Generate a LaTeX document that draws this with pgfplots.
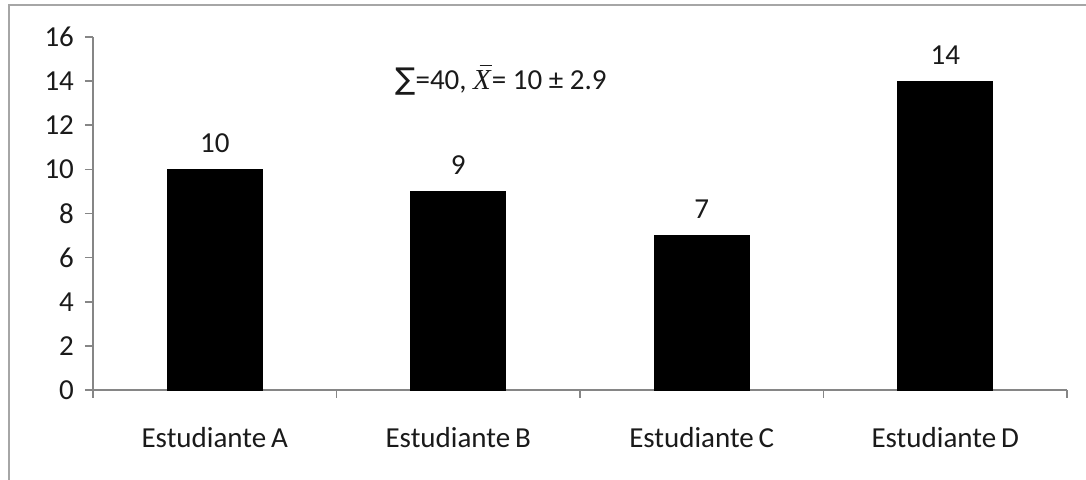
\documentclass[border=0pt]{standalone}
\usepackage{pgfplots}
\pgfplotsset{compat=1.18}
\usepackage{fontspec}
\setmainfont{Carlito}
\newfontfamily\symfont{DejaVu Sans}
\newfontfamily\mathserif{Liberation Serif}
\definecolor{axgray}{HTML}{868686}
\definecolor{framegray}{HTML}{A6A6A6}
\definecolor{txt}{HTML}{1A1A1A}
\newcommand{\xbar}{\makebox[0pt][l]{\hspace{3.2pt}\raisebox{11.5pt}{\rule{6pt}{0.7pt}}}{\mathserif\itshape X}}
\begin{document}
\begin{tikzpicture}
\begin{axis}[
    at={(0,0)}, anchor=south west,
    scale only axis,
    width=487pt, height=176.5pt,
    xmin=0, xmax=4, ymin=0, ymax=16,
    axis x line*=bottom, axis y line*=left,
    axis line style={axgray, line width=0.8pt},
    tick style={axgray, line width=0.8pt},
    tick align=outside,
    major tick length=4pt,
    ytick={0,2,...,16},
    xtick={0,1,2,3,4},
    xticklabels={},
    extra x ticks={0.5,1.5,2.5,3.5},
    extra x tick labels={Estudiante\,A, Estudiante\,B, Estudiante\,C, Estudiante\,D},
    extra x tick style={major tick length=0pt},
    /pgf/number format/assume math mode=true,
    ticklabel style={font=\fontsize{14.5}{16}\selectfont, text=txt},
    xticklabel style={yshift=-15pt},
    yticklabel style={xshift=-2pt},
    nodes near coords,
    nodes near coords style={font=\fontsize{14.5}{16}\selectfont, text=txt, yshift=5pt},
    clip=false,
]
\addplot[ybar, bar width=47.5pt, fill=black, draw=black] coordinates {
    (0.5,10) (1.5,9) (2.5,7) (3.5,14)
};
\node[anchor=west, font=\fontsize{14.5}{16}\selectfont, text=txt, inner sep=0pt]
    at (axis cs:1.24,14.05) {{\symfont\fontsize{15}{16}\selectfont ∑}=40, \xbar\kern0.5pt= 10 ± 2.9};
\end{axis}
\draw[framegray, line width=1.2pt] (-42pt,-60pt) -- (-42pt,192.5pt) -- (510pt,192.5pt);
\pgfresetboundingbox
\useasboundingbox (-46.5pt,-45pt) rectangle (496.5pt,195pt);
\end{tikzpicture}
\end{document}
